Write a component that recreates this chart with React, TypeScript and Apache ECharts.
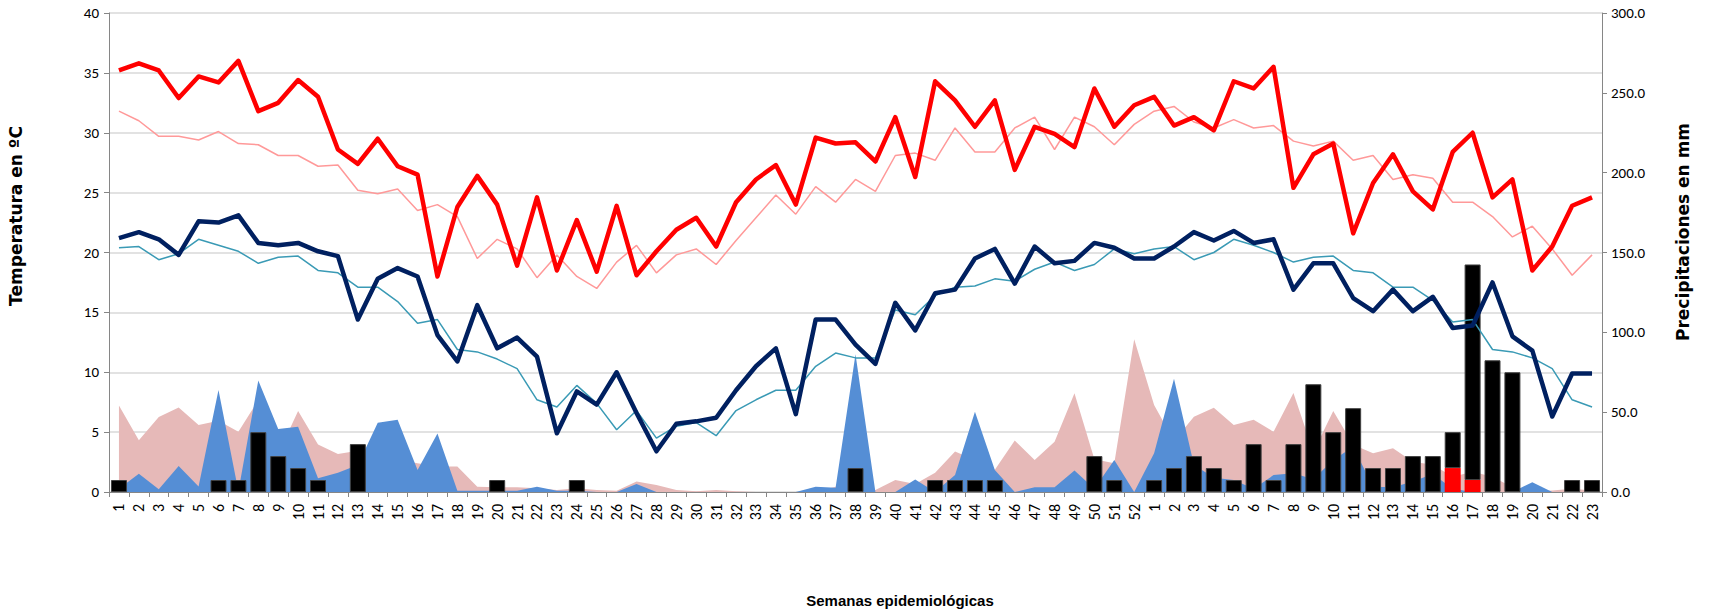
import React, { useEffect, useRef } from "react";
import * as echarts from "echarts";

const weeks = [
  "1","2","3","4","5","6","7","8","9","10","11","12","13","14","15","16","17","18","19","20",
  "21","22","23","24","25","26","27","28","29","30","31","32","33","34","35","36","37","38","39","40",
  "41","42","43","44","45","46","47","48","49","50","51","52",
  "1","2","3","4","5","6","7","8","9","10","11","12","13","14","15","16","17","18","19","20","21","22","23",
];

// Temperature (left axis, ºC)
const tmaxCurrent = [
  35.2,35.8,35.2,32.9,34.7,34.2,36.0,31.8,32.5,34.4,33.0,28.6,27.4,29.5,27.2,26.5,18.0,23.8,26.4,24.0,
  18.9,24.6,18.5,22.7,18.4,23.9,18.1,20.1,21.9,22.9,20.5,24.2,26.1,27.3,24.0,29.6,29.1,29.2,27.6,31.3,
  26.3,34.3,32.7,30.5,32.7,26.9,30.5,29.9,28.8,33.7,30.5,32.3,
  33.0,30.6,31.3,30.2,34.3,33.7,35.5,25.4,28.2,29.1,21.6,25.8,28.2,25.1,23.6,28.4,30.0,24.6,26.1,18.5,20.5,23.9,24.6,
];
const tmaxHistoric = [
  31.8,31.0,29.7,29.7,29.4,30.1,29.1,29.0,28.1,28.1,27.2,27.3,25.2,24.9,25.3,23.5,24.0,23.0,19.5,21.1,
  20.3,17.9,19.8,18.0,17.0,19.2,20.6,18.3,19.8,20.3,19.0,21.0,22.9,24.8,23.2,25.5,24.2,26.1,25.1,28.1,
  28.3,27.7,30.4,28.4,28.4,30.4,31.3,28.6,31.3,30.5,29.0,30.7,
  31.8,32.2,30.9,30.4,31.1,30.4,30.6,29.3,28.9,29.3,27.7,28.1,26.1,26.5,26.2,24.2,24.2,23.0,21.3,22.2,20.3,18.1,19.8,
];
const tminCurrent = [
  21.2,21.7,21.1,19.8,22.6,22.5,23.1,20.8,20.6,20.8,20.1,19.7,14.4,17.8,18.7,18.0,13.1,10.9,15.6,12.0,
  12.9,11.3,4.9,8.4,7.3,10.0,6.6,3.4,5.7,5.9,6.2,8.5,10.5,12.0,6.5,14.4,14.4,12.3,10.7,15.8,
  13.5,16.6,16.9,19.5,20.3,17.4,20.5,19.1,19.3,20.8,20.4,19.5,
  19.5,20.5,21.7,21.0,21.8,20.8,21.1,16.9,19.1,19.1,16.2,15.1,16.9,15.1,16.3,13.7,13.9,17.5,13.0,11.8,6.3,9.9,9.9,
];
const tminHistoric = [
  20.4,20.5,19.4,19.9,21.1,20.6,20.1,19.1,19.6,19.7,18.5,18.3,17.1,17.1,15.9,14.1,14.4,11.9,11.7,11.1,
  10.3,7.7,7.1,8.9,7.4,5.2,6.8,4.5,5.5,5.8,4.7,6.8,7.7,8.5,8.5,10.5,11.6,11.2,11.2,15.2,
  14.8,16.4,17.1,17.2,17.8,17.6,18.6,19.2,18.5,19.0,20.3,19.9,
  20.3,20.5,19.4,20.0,21.1,20.6,20.0,19.2,19.6,19.7,18.5,18.3,17.1,17.1,16.0,14.2,14.4,11.9,11.7,11.2,10.3,7.7,7.1,
];

// Precipitation (right axis, mm)
const precipHistoric = [
  54.1,32.4,47.0,52.9,42.0,44.6,37.7,57.6,24.0,50.7,29.8,23.8,25.9,22.0,20.0,18.0,16.0,15.9,3.3,2.9,
  2.9,2.3,1.3,2.3,1.3,0.8,6.5,4.4,1.3,0.5,1.3,0.5,0,0,0,0,3.3,2.0,1.3,7.5,
  5.0,12.1,25.3,20.0,14.0,32.2,20.0,31.5,61.8,20.5,18.0,95.7,
  54.5,32.0,47.2,52.7,42.0,45.3,37.7,62.0,25.0,50.8,29.6,24.2,27.4,19.0,17.0,9.6,12.7,9.6,3.0,0.5,1.0,2.0,1.0,
];
const precipCurrent = [
  2.0,11.5,1.7,16.3,3.5,63.9,0.5,69.9,39.4,40.9,8.6,12.1,16.9,43.4,45.3,13.8,36.7,0.8,0.8,0.8,
  0.8,3.3,0.8,0.8,0,0,5.0,0,0,0,0,0,0,0,0,3.3,2.7,86.2,0,0,
  7.9,0,10.6,50.3,13.8,0,2.9,2.9,13.4,2.0,20.0,0,
  24.2,70.9,17.0,9.0,7.5,2.0,10.6,11.7,8.0,20.0,28.4,3.3,3.0,6.5,11.3,2.0,0,0,0,6.1,0,0,0,
];

// Cases (left axis, counts)
const casesRed = [
  0,0,0,0,0,0,0,0,0,0,0,0,0,0,0,0,0,0,0,0,
  0,0,0,0,0,0,0,0,0,0,0,0,0,0,0,0,0,0,0,0,
  0,0,0,0,0,0,0,0,0,0,0,0,
  0,0,0,0,0,0,0,0,0,0,0,0,0,0,0,2,1,0,0,0,0,0,0,
];
const casesBlack = [
  1,0,0,0,0,1,1,5,3,2,1,0,4,0,0,0,0,0,0,1,
  0,0,0,1,0,0,0,0,0,0,0,0,0,0,0,0,0,2,0,0,
  0,1,1,1,1,0,0,0,0,3,1,0,
  1,2,3,2,1,4,1,4,9,5,7,2,2,3,3,3,18,11,10,0,0,1,1,
];

const tempTicks = { min: 0, max: 40, interval: 5 };
const precipTicks = { min: 0, max: 300, interval: 50 };

const LABEL_FONT = "Carlito, 'Liberation Sans', sans-serif";

export default function App() {
  const ref = useRef<HTMLDivElement>(null);

  useEffect(() => {
    if (!ref.current) return;
    const chart = echarts.init(ref.current, null, { renderer: "svg" });
    const nz = (arr: number[]) => arr.map((v) => (v === 0 ? "-" : v));

    chart.setOption({
      animation: false,
      backgroundColor: "#ffffff",
      grid: { left: 109, right: 107, top: 13, bottom: 122, containLabel: false },
      xAxis: {
        type: "category",
        data: weeks,
        boundaryGap: true,
        axisLine: { lineStyle: { color: "#868686", width: 1 } },
        axisTick: { show: true, length: 5, lineStyle: { color: "#868686" } },
        axisLabel: {
          interval: 0,
          rotate: 90,
          margin: 12,
          color: "#000",
          fontSize: 16,
          fontFamily: LABEL_FONT,
        },
      },
      yAxis: [
        {
          type: "value",
          min: tempTicks.min,
          max: tempTicks.max,
          interval: tempTicks.interval,
          axisLine: { show: true, lineStyle: { color: "#868686" } },
          axisTick: { show: true, length: 5, lineStyle: { color: "#868686" } },
          axisLabel: { color: "#000", fontSize: 15, margin: 10, fontFamily: LABEL_FONT },
          splitLine: { show: true, lineStyle: { color: "#D9D9D9", width: 1.5 } },
        },
        {
          type: "value",
          min: precipTicks.min,
          max: precipTicks.max,
          interval: precipTicks.interval,
          position: "right",
          axisLine: { show: true, lineStyle: { color: "#868686" } },
          axisTick: { show: true, length: 5, lineStyle: { color: "#868686" } },
          axisLabel: {
            color: "#000",
            fontSize: 15,
            margin: 9,
            fontFamily: LABEL_FONT,
            formatter: (v: number) => v.toFixed(1),
          },
          splitLine: { show: false },
        },
      ],
      series: [
        {
          name: "Precipitación histórica",
          type: "line",
          yAxisIndex: 1,
          data: precipHistoric,
          symbol: "none",
          lineStyle: { width: 0 },
          areaStyle: { color: "#E6B9B8", opacity: 1 },
          z: 1,
        },
        {
          name: "Precipitación",
          type: "line",
          yAxisIndex: 1,
          data: precipCurrent,
          symbol: "none",
          lineStyle: { width: 0 },
          areaStyle: { color: "#558ED5", opacity: 1 },
          z: 2,
        },
        {
          name: "Casos (rojo)",
          type: "bar",
          yAxisIndex: 0,
          stack: "casos",
          data: nz(casesRed),
          barWidth: 16,
          itemStyle: { color: "#FF0000" },
          z: 3,
        },
        {
          name: "Casos",
          type: "bar",
          yAxisIndex: 0,
          stack: "casos",
          data: nz(casesBlack),
          barWidth: 16,
          itemStyle: { color: "#000000", borderColor: "#404040", borderWidth: 1 },
          z: 3,
        },
        {
          name: "Tmax histórica",
          type: "line",
          yAxisIndex: 0,
          data: tmaxHistoric,
          symbol: "none",
          lineStyle: { color: "#FF9999", width: 1.5 },
          z: 4,
        },
        {
          name: "Tmin histórica",
          type: "line",
          yAxisIndex: 0,
          data: tminHistoric,
          symbol: "none",
          lineStyle: { color: "#3A9AB5", width: 1.5 },
          z: 4,
        },
        {
          name: "Tmax",
          type: "line",
          yAxisIndex: 0,
          data: tmaxCurrent,
          symbol: "none",
          lineStyle: { color: "#FF0000", width: 4.5, join: "round" },
          z: 5,
        },
        {
          name: "Tmin",
          type: "line",
          yAxisIndex: 0,
          data: tminCurrent,
          symbol: "none",
          lineStyle: { color: "#002060", width: 4.5, join: "round" },
          z: 5,
        },
      ],
      graphic: [
        {
          type: "text",
          x: 16,
          y: 216,
          rotation: Math.PI / 2,
          style: {
            text: "Temperatura en ºC",
            align: "center",
            verticalAlign: "middle",
            font: "bold 17px 'DejaVu Sans', Verdana, sans-serif",
            fill: "#000",
          },
        },
        {
          type: "text",
          x: 1683,
          y: 232,
          rotation: Math.PI / 2,
          style: {
            text: "Precipitaciones en mm",
            align: "center",
            verticalAlign: "middle",
            font: "bold 17px 'DejaVu Sans', Verdana, sans-serif",
            fill: "#000",
          },
        },
        {
          type: "text",
          x: 900,
          y: 600,
          style: {
            text: "Semanas epidemiológicas",
            align: "center",
            verticalAlign: "middle",
            font: "bold 15px 'Liberation Sans Narrow', 'Arial Narrow', sans-serif",
            fill: "#000",
          },
        },
      ],
    });

    return () => chart.dispose();
  }, []);

  return (
    <div
      ref={ref}
      style={{ position: "fixed", left: 0, top: 0, width: 1709, height: 614, background: "#fff" }}
    />
  );
}
